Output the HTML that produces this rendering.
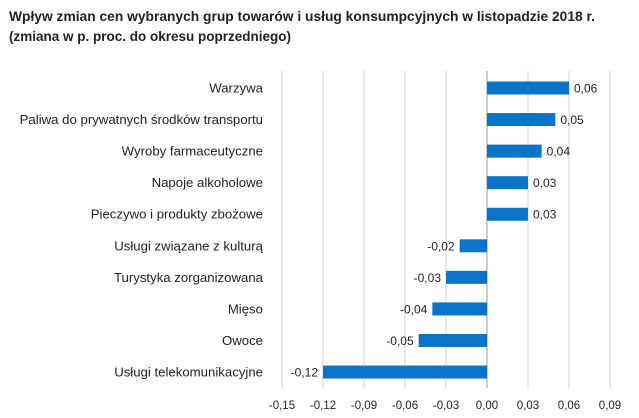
<!DOCTYPE html>
<html><head><meta charset="utf-8"><style>
body{margin:0;background:#fff;}
svg{display:block;font-family:"Liberation Sans",sans-serif;}
</style></head><body>
<svg id="chart" width="639" height="418" viewBox="0 0 639 418" xmlns="http://www.w3.org/2000/svg">
<text x="9" y="21" font-size="13.5" font-weight="bold" fill="#222" textLength="586" lengthAdjust="spacingAndGlyphs">Wpływ zmian cen wybranych grup towarów i usług konsumpcyjnych w listopadzie 2018 r.</text>
<text x="9" y="41" font-size="13.5" font-weight="bold" fill="#222" textLength="282" lengthAdjust="spacingAndGlyphs">(zmiana w p. proc. do okresu poprzedniego)</text>
<g id="grid"></g><g id="bars"></g><g id="labels"></g>
</svg>
<script>
const categories=["Warzywa","Paliwa do prywatnych środków transportu","Wyroby farmaceutyczne","Napoje alkoholowe","Pieczywo i produkty zbożowe","Usługi związane z kulturą","Turystyka zorganizowana","Mięso","Owoce","Usługi telekomunikacyjne"];
const values=[0.06,0.05,0.04,0.03,0.03,-0.02,-0.03,-0.04,-0.05,-0.12];
const ticks=[-0.15,-0.12,-0.09,-0.06,-0.03,0,0.03,0.06,0.09];
const NS="http://www.w3.org/2000/svg";
const x0=282,x1=610,vmin=-0.15,vmax=0.09;
const X=v=>x0+(v-vmin)/(vmax-vmin)*(x1-x0);
const Y=i=>88+i*31.56;
const fmt=v=>v.toFixed(2).replace('.',',');
function mk(t,a,p){const e=document.createElementNS(NS,t);for(const k in a)e.setAttribute(k,a[k]);p.appendChild(e);return e;}
const g=document.getElementById('grid'),b=document.getElementById('bars'),l=document.getElementById('labels');
ticks.forEach(t=>{
 const ln=mk('line',{x1:X(t),x2:X(t),y1:71,y2:388,stroke:t===0?'#999':'#d0d0d0','stroke-width':1},g);
 
 
 const tx=mk('text',{x:X(t),y:409,'font-size':11.5,'text-anchor':'middle',fill:'#222'},g);
 
 
 tx.textContent=fmt(t);
});
categories.forEach((c,i)=>{
 const v=values[i],y=Y(i);
 const r=mk('rect',{x:Math.min(X(0),X(v)),y:y-6.5,width:Math.abs(X(v)-X(0)),height:13,fill:'#0a74c9'},b);
 
 
 const ct=mk('text',{x:263,y:y+4.5,'font-size':13.2,'text-anchor':'end',fill:'#222'},l);
 
 
 ct.textContent=c;
 const vt=mk('text',{x:v>=0?X(v)+5:X(v)-5,y:y+4.5,'font-size':12,'text-anchor':v>=0?'start':'end',fill:'#222'},l);
 
 
 vt.textContent=fmt(v);
});
</script>
</body></html>
